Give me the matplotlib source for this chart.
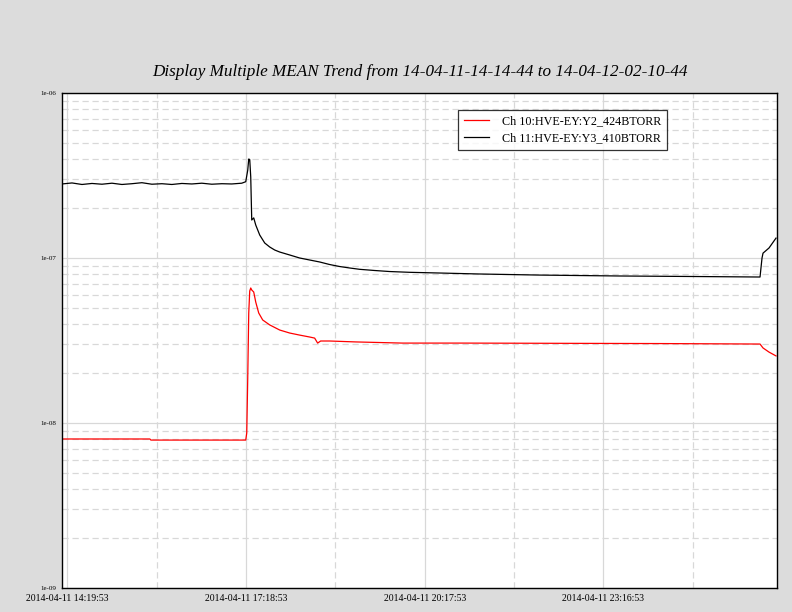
import matplotlib
matplotlib.use("Agg")
import matplotlib.pyplot as plt
from matplotlib.ticker import LogLocator, NullFormatter, FixedLocator

# minutes since 2014-04-11 14:14:44
t_ch11 = [0, 10, 20, 30, 40, 50, 60, 70, 80, 90, 100, 110, 120, 130, 140, 150, 160, 170, 180,
          184, 186, 187, 188, 189, 190, 192, 194, 198, 203, 208, 213, 218, 228, 238, 248, 258,
          268, 278, 288, 298, 313, 328, 348, 378, 418, 478, 558, 638, 698, 699, 701, 702, 708, 715]
v_ch11 = [2.81e-7, 2.85e-7, 2.79e-7, 2.83e-7, 2.80e-7, 2.84e-7, 2.79e-7, 2.82e-7, 2.86e-7,
          2.80e-7, 2.82e-7, 2.79e-7, 2.83e-7, 2.81e-7, 2.84e-7, 2.80e-7, 2.82e-7, 2.81e-7, 2.84e-7,
          2.90e-7, 3.41e-7, 3.98e-7, 3.95e-7, 3.10e-7, 1.70e-7, 1.75e-7, 1.585e-7, 1.378e-7,
          1.233e-7, 1.166e-7, 1.118e-7, 1.087e-7, 1.043e-7, 1.0e-7, 9.725e-8, 9.46e-8,
          9.13e-8, 8.88e-8, 8.70e-8, 8.54e-8, 8.40e-8, 8.28e-8, 8.19e-8, 8.11e-8, 8.0e-8,
          7.88e-8, 7.78e-8, 7.72e-8, 7.67e-8, 7.67e-8, 1.0e-7, 1.07e-7, 1.15e-7, 1.32e-7]

t_ch10 = [0, 88, 89, 184, 185, 186, 187, 188, 189, 190, 192, 194, 197, 201, 208, 218, 228, 238,
          248, 253, 256, 259, 268, 294, 341, 400, 500, 600, 698, 699, 702, 708, 715]
v_ch10 = [8.0e-9, 8.0e-9, 7.88e-9, 7.88e-9, 8.7e-9, 1.874e-8, 4.64e-8, 6.31e-8, 6.58e-8, 6.4e-8,
          6.22e-8, 5.41e-8, 4.64e-8, 4.21e-8, 3.93e-8, 3.66e-8, 3.51e-8, 3.41e-8,
          3.32e-8, 3.27e-8, 3.05e-8, 3.14e-8, 3.14e-8, 3.10e-8, 3.05e-8, 3.05e-8, 3.04e-8,
          3.03e-8, 3.01e-8, 3.01e-8, 2.85e-8, 2.69e-8, 2.55e-8]

x_tick_pos = [5.15, 184.15, 363.15, 542.15]
x_tick_labels = ["2014-04-11 14:19:53", "2014-04-11 17:18:53",
                 "2014-04-11 20:17:53", "2014-04-11 23:16:53"]
x_minor_pos = [94.65, 273.65, 452.65, 631.65]

serif = ["Liberation Serif", "DejaVu Serif"]

fig = plt.figure(figsize=(7.92, 6.12), dpi=100, facecolor="#dcdcdc")
ax = fig.add_axes([62 / 792, 24 / 612, 715 / 792, 495 / 612])
ax.set_facecolor("white")

ax.plot(t_ch10, v_ch10, color="red", lw=0.9, label="Ch 10:HVE-EY:Y2_424BTORR")
ax.plot(t_ch11, v_ch11, color="black", lw=0.9, label="Ch 11:HVE-EY:Y3_410BTORR")

ax.set_yscale("log")
ax.set_ylim(1e-9, 1e-6)
ax.set_xlim(0, 716)

ax.yaxis.set_major_locator(FixedLocator([1e-9, 1e-8, 1e-7, 1e-6]))
ax.set_yticklabels(["1e-09", "1e-08", "1e-07", "1e-06"])
ax.yaxis.set_minor_locator(LogLocator(base=10, subs=range(2, 10)))
ax.yaxis.set_minor_formatter(NullFormatter())

ax.xaxis.set_major_locator(FixedLocator(x_tick_pos))
ax.set_xticklabels(x_tick_labels)
ax.xaxis.set_minor_locator(FixedLocator(x_minor_pos))

ax.grid(which="major", color="#d8d8d8", lw=0.9, ls="-")
ax.grid(which="minor", color="#d8d8d8", lw=0.9, ls=(0, (5, 3)))
ax.set_axisbelow(True)

ax.tick_params(which="both", length=0)
ax.tick_params(axis="x", labelsize=7, pad=4.5)
ax.tick_params(axis="y", labelsize=5, pad=4)
for lab in ax.get_xticklabels() + ax.get_yticklabels():
    lab.set_family(serif)

for sp in ax.spines.values():
    sp.set_color("black")
    sp.set_linewidth(1.0)

ax.set_title("Display Multiple MEAN Trend from 14-04-11-14-14-44 to 14-04-12-02-10-44",
             family=serif, style="italic", fontsize=12.3, pad=12)

leg = ax.legend(loc="upper right", bbox_to_anchor=(0.846, 0.966), borderaxespad=0,
                frameon=True, fancybox=False, edgecolor="black",
                prop={"family": serif, "size": 8.7},
                handlelength=2.1, handletextpad=1.1, borderpad=0.45, labelspacing=0.4)
leg.get_frame().set_linewidth(0.9)

fig.savefig("out.png", dpi=100, facecolor=fig.get_facecolor())
